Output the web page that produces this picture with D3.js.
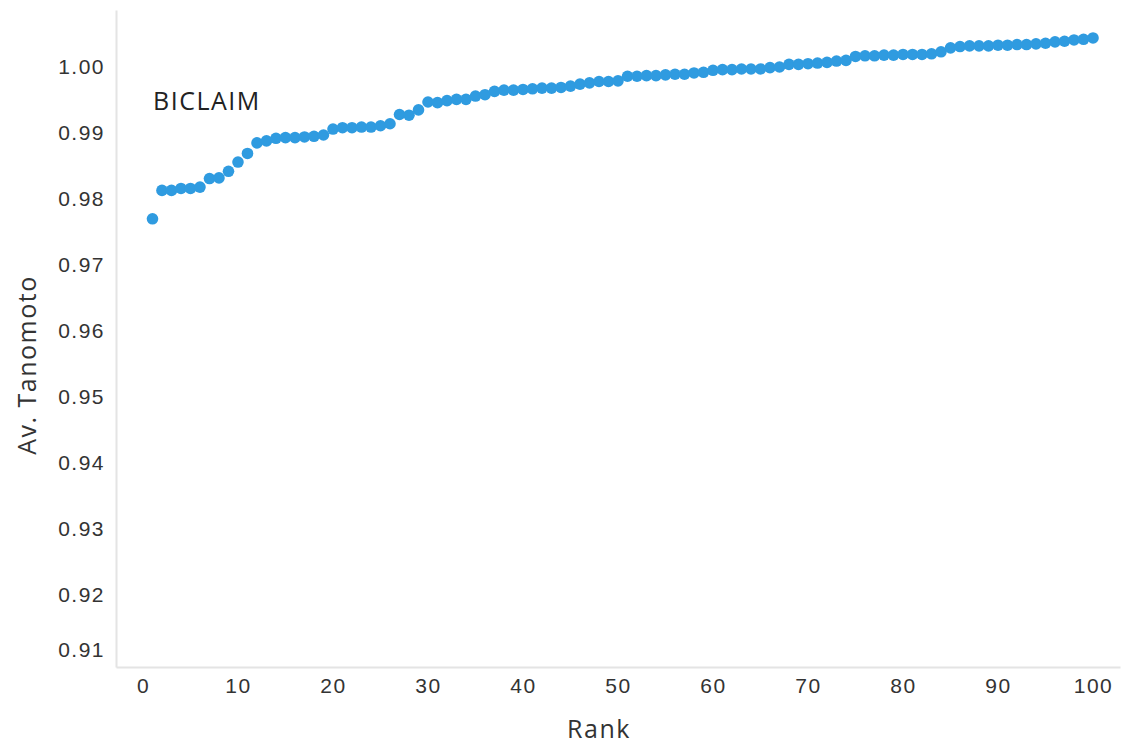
<!DOCTYPE html>
<html>
<head>
<meta charset="utf-8">
<script src="https://cdn.jsdelivr.net/npm/d3@7"></script>
<style>
  body { margin: 0; background: #fff; }
  .tick text { font-family: "Liberation Sans", Arial, sans-serif; font-size: 21px; letter-spacing: 1.5px; fill: #333; }
  .domain { stroke: #e4e4e4; stroke-width: 2px; }
  .title { font-family: "Open Sans", "Noto Sans", sans-serif; font-size: 25px; letter-spacing: 1.5px; fill: #333; }
</style>
</head>
<body>
<svg id="chart" width="1125" height="744"></svg>
<script>
const ranks = d3.range(1, 101);
const tanimoto = [
  0.9770, 0.9813, 0.9813, 0.9816, 0.9816, 0.9818, 0.9831, 0.9832, 0.9842, 0.9856,
  0.9869, 0.9885, 0.9888, 0.9892, 0.9893, 0.9893, 0.9894, 0.9895, 0.9897, 0.9906,
  0.9908, 0.9908, 0.9909, 0.9909, 0.9911, 0.9914, 0.9928, 0.9927, 0.9935, 0.9947,
  0.9946, 0.9949, 0.9951, 0.9951, 0.9956, 0.9958, 0.9963, 0.9965, 0.9965, 0.9966,
  0.9967, 0.9968, 0.9968, 0.9969, 0.9971, 0.9974, 0.9976, 0.9978, 0.9978, 0.9979,
  0.9986, 0.9986, 0.9987, 0.9987, 0.9988, 0.9989, 0.9989, 0.9991, 0.9992, 0.9995,
  0.9996, 0.9996, 0.9997, 0.9997, 0.9997, 0.9999, 1.0000, 1.0004, 1.0004, 1.0005,
  1.0006, 1.0007, 1.0009, 1.0010, 1.0016, 1.0017, 1.0017, 1.0018, 1.0018, 1.0019,
  1.0019, 1.0019, 1.0020, 1.0023, 1.0029, 1.0031, 1.0032, 1.0032, 1.0032, 1.0033,
  1.0033, 1.0034, 1.0034, 1.0035, 1.0036, 1.0038, 1.0039, 1.0041, 1.0042, 1.0044
];
const xTicks = [0, 10, 20, 30, 40, 50, 60, 70, 80, 90, 100];
const yTicks = [0.91, 0.92, 0.93, 0.94, 0.95, 0.96, 0.97, 0.98, 0.99, 1.00];
const label = 'BICLAIM';

const svg = d3.select('#chart');

const x = d3.scaleLinear()
  .domain([-2.84, 102.84])
  .range([116, 1120]);
const y = d3.scaleLinear()
  .domain([0.90909, 1.008636])
  .range([667, 10]);

const xAxis = svg.append('g')
  .attr('transform', `translate(0,${667})`)
  .call(d3.axisBottom(x).tickValues(xTicks).tickSize(0).tickPadding(11).tickSizeOuter(0));
xAxis.selectAll('.tick text').attr('dy', '0.71em');

const yAxis = svg.append('g')
  .attr('transform', `translate(${116},0)`)
  .call(d3.axisLeft(y).tickValues(yTicks).tickFormat(d3.format('.2f')).tickSize(0).tickPadding(11).tickSizeOuter(0));
// bottom label sits a bit higher than its grid value in the original
yAxis.selectAll('.tick text')
  .attr('y', (d) => d === 0.91 ? -11 : 0);

svg.append('g')
  .selectAll('circle')
  .data(ranks.map((r, i) => ({ rank: r, value: tanimoto[i] })))
  .enter()
    .append('circle')
    .attr('cx', (d) => x(d.rank))
    .attr('cy', (d) => y(d.value))
    .attr('r', 5.8)
    .attr('fill', '#2f9be0');

svg.append('text')
  .classed('title', true)
  .attr('x', 153)
  .attr('y', 110)
  .style('fill', '#222')
  .text(label);

svg.append('text')
  .classed('title', true)
  .attr('text-anchor', 'middle')
  .attr('x', 599)
  .attr('y', 738)
  .text('Rank');

svg.append('text')
  .classed('title', true)
  .attr('text-anchor', 'middle')
  .attr('transform', 'translate(36,365) rotate(-90)')
  .text('Av. Tanomoto');
</script>
</body>
</html>
